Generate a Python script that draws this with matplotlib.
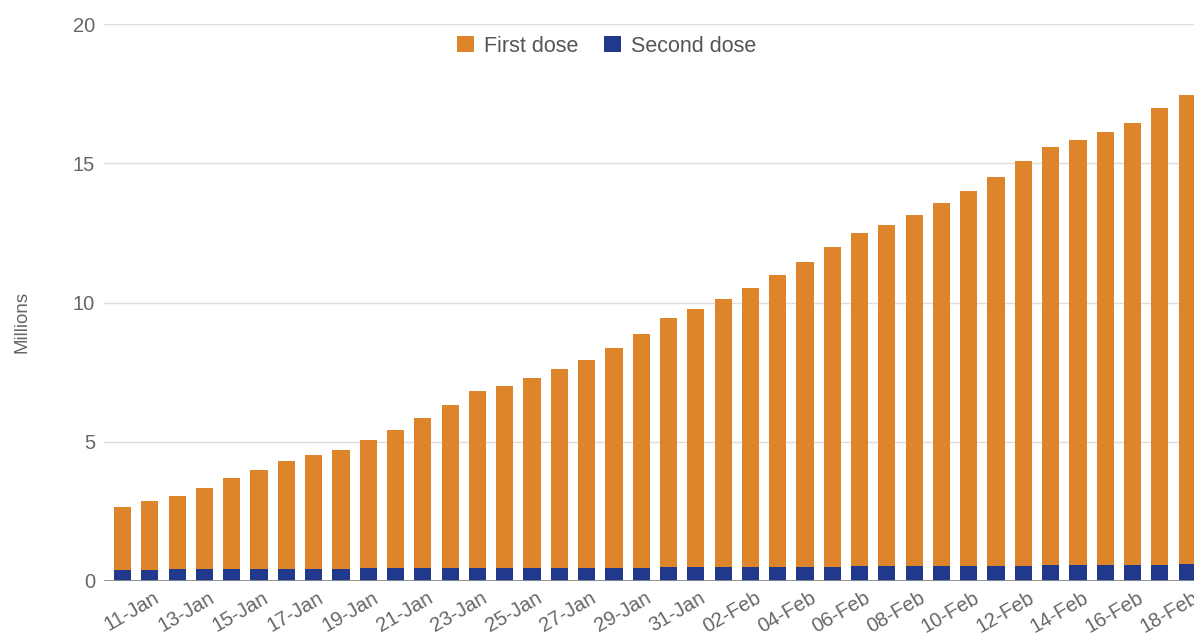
import matplotlib
matplotlib.use("Agg")
import matplotlib.pyplot as plt
from matplotlib.transforms import ScaledTranslation
import numpy as np

# Daily cumulative vaccinations (millions), 11 Jan - 19 Feb
dates = ["11-Jan", "12-Jan", "13-Jan", "14-Jan", "15-Jan", "16-Jan", "17-Jan", "18-Jan",
         "19-Jan", "20-Jan", "21-Jan", "22-Jan", "23-Jan", "24-Jan", "25-Jan", "26-Jan",
         "27-Jan", "28-Jan", "29-Jan", "30-Jan", "31-Jan", "01-Feb", "02-Feb", "03-Feb",
         "04-Feb", "05-Feb", "06-Feb", "07-Feb", "08-Feb", "09-Feb", "10-Feb", "11-Feb",
         "12-Feb", "13-Feb", "14-Feb", "15-Feb", "16-Feb", "17-Feb", "18-Feb", "19-Feb"]

second_dose = [0.41, 0.41, 0.43, 0.43, 0.43, 0.44, 0.44, 0.44, 0.44, 0.46,
               0.46, 0.47, 0.47, 0.47, 0.47, 0.48, 0.48, 0.48, 0.48, 0.48,
               0.49, 0.49, 0.50, 0.52, 0.52, 0.52, 0.52, 0.53, 0.53, 0.53,
               0.53, 0.54, 0.54, 0.55, 0.56, 0.56, 0.56, 0.57, 0.58, 0.61]

first_dose = [2.24, 2.47, 2.63, 2.91, 3.26, 3.55, 3.88, 4.08, 4.26, 4.60,
              4.96, 5.37, 5.85, 6.35, 6.53, 6.82, 7.13, 7.44, 7.89, 8.38,
              8.94, 9.28, 9.61, 10.00, 10.47, 10.95, 11.46, 11.98, 12.24, 12.60,
              13.05, 13.46, 13.98, 14.54, 15.02, 15.26, 15.56, 15.88, 16.39, 16.83]

y_ticks = [0, 5, 10, 15, 20]

ORANGE = "#DE852C"
BLUE = "#20398D"
TEXT = "#666666"

plt.rcParams["font.family"] = ["Liberation Sans", "DejaVu Sans"]

fig = plt.figure(figsize=(11.94, 6.34), dpi=100)
ax = fig.add_axes([0.0871, 0.0836, 1 - 0.0871, 0.8785])

x = np.arange(len(dates))
ax.bar(x, second_dose, width=0.63, color=BLUE, label="Second dose", zorder=3)
ax.bar(x, first_dose, width=0.63, bottom=second_dose, color=ORANGE,
       label="First dose", zorder=3)

ax.set_xlim(-0.68, 39.25)
ax.set_ylim(0, 20)
ax.set_yticks(y_ticks)
ax.set_yticklabels([str(t) for t in y_ticks])
ax.yaxis.grid(True, color="#dedede", linewidth=1.0, zorder=0)
ax.axhline(0, color="#8c8c8c", linewidth=1.3, zorder=4)

for s in ax.spines.values():
    s.set_visible(False)
ax.tick_params(axis="both", length=0, labelsize=14.5, colors=TEXT)
ax.tick_params(axis="y", pad=6.5)

# every other date is labelled, up to 18-Feb
shown = x[:-1:2]
ax.set_xticks(shown)
ax.set_xticklabels([dates[i] for i in shown], rotation=30, ha="center",
                   fontsize=14.5, color=TEXT)
ax.tick_params(axis="x", pad=5)
shift = ScaledTranslation(9 / 100, 0, fig.dpi_scale_trans)
for lab in ax.get_xticklabels():
    lab.set_transform(lab.get_transform() + shift)

fig.text(21.7 / 1194, 1 - 322 / 634, "Millions", rotation=90, ha="center",
         va="center", fontsize=13.5, color=TEXT)

handles, labels = ax.get_legend_handles_labels()
leg = fig.legend(handles[::-1], labels[::-1], loc="center",
                 bbox_to_anchor=(607 / 1194, 1 - 46 / 634), ncol=2, frameon=False,
                 fontsize=15.5, handlelength=0.75, handleheight=0.75,
                 handletextpad=0.5, columnspacing=1.2)
for t in leg.get_texts():
    t.set_color("#555555")

fig.savefig("out.png", dpi=100, facecolor="white")
